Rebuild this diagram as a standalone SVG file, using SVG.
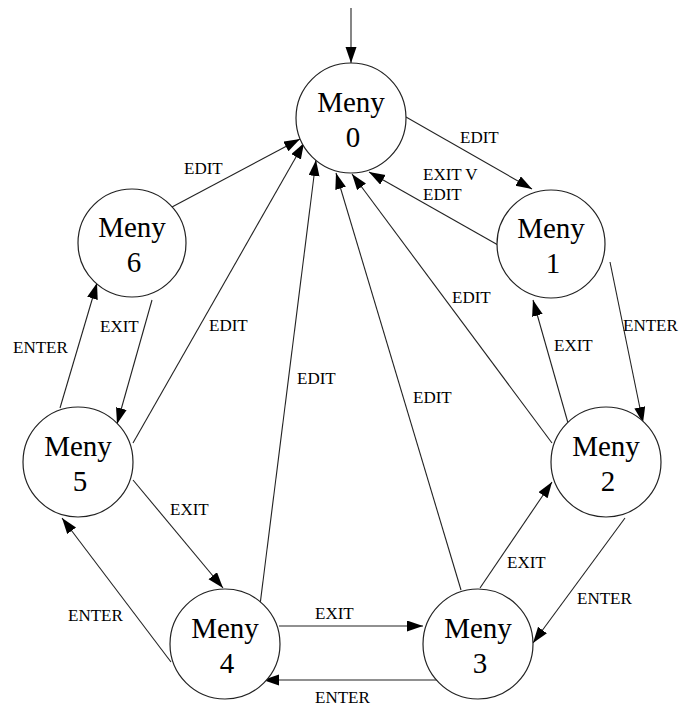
<svg xmlns="http://www.w3.org/2000/svg" width="681" height="706" viewBox="0 0 681 706">
<style>
.node circle{fill:#fff;stroke:#222;stroke-width:1.2}
.node text{font-family:'Liberation Serif','DejaVu Serif',serif;font-size:29px;fill:#000;text-anchor:middle}
.lbl text{font-family:'Liberation Serif','DejaVu Serif',serif;font-size:17px;fill:#000}
#edges line{stroke:#222;stroke-width:1.1;marker-end:url(#arr)}
</style>
<defs>
<marker id="arr" markerUnits="userSpaceOnUse" markerWidth="16" markerHeight="12" refX="16" refY="5.5" orient="auto">
<path d="M0,0 L16,5.5 L0,11 z" fill="#000"/>
</marker>
</defs>
<g id="edges">
<line x1="351" y1="8" x2="351" y2="63"/>
<line x1="406" y1="117" x2="532" y2="189"/>
<line x1="498" y1="245" x2="369" y2="172"/>
<line x1="552" y1="443" x2="352" y2="174"/>
<line x1="461" y1="590" x2="336" y2="173"/>
<line x1="260" y1="605" x2="316" y2="160"/>
<line x1="133" y1="443" x2="304" y2="143"/>
<line x1="172" y1="207" x2="300" y2="139"/>
<line x1="610" y1="262" x2="643" y2="423"/>
<line x1="568" y1="423" x2="533" y2="300"/>
<line x1="480" y1="588" x2="552" y2="482"/>
<line x1="625" y1="518" x2="533" y2="643"/>
<line x1="279" y1="626" x2="423" y2="626"/>
<line x1="443" y1="680" x2="263" y2="680"/>
<line x1="133" y1="480" x2="223" y2="588"/>
<line x1="171" y1="662" x2="62" y2="518"/>
<line x1="60" y1="408" x2="97" y2="283"/>
<line x1="152" y1="300" x2="117" y2="424"/>
</g>
<g id="labels" class="lbl">
<text x="460" y="143">EDIT</text>
<text x="423" y="180">EXIT V</text>
<text x="423" y="200">EDIT</text>
<text x="452" y="303">EDIT</text>
<text x="184" y="174">EDIT</text>
<text x="13" y="353">ENTER</text>
<text x="100" y="332">EXIT</text>
<text x="209" y="331">EDIT</text>
<text x="170" y="515">EXIT</text>
<text x="297" y="384">EDIT</text>
<text x="413" y="403">EDIT</text>
<text x="554" y="351">EXIT</text>
<text x="623" y="331">ENTER</text>
<text x="68" y="621">ENTER</text>
<text x="315" y="619">EXIT</text>
<text x="315" y="703">ENTER</text>
<text x="507" y="568">EXIT</text>
<text x="577" y="604">ENTER</text>
</g>
<g id="n0" class="node"><circle cx="351" cy="118" r="55"/><text x="351" y="112">Meny</text><text x="353" y="147">0</text></g>
<g id="n1" class="node"><circle cx="551" cy="244" r="54"/><text x="551" y="238">Meny</text><text x="553" y="273">1</text></g>
<g id="n6" class="node"><circle cx="132" cy="243" r="54"/><text x="132" y="237">Meny</text><text x="134" y="272">6</text></g>
<g id="n5" class="node"><circle cx="78" cy="462" r="55"/><text x="78" y="456">Meny</text><text x="80" y="491">5</text></g>
<g id="n2" class="node"><circle cx="606" cy="462" r="55"/><text x="606" y="456">Meny</text><text x="608" y="491">2</text></g>
<g id="n4" class="node"><circle cx="225" cy="644" r="55"/><text x="225" y="638">Meny</text><text x="227" y="673">4</text></g>
<g id="n3" class="node"><circle cx="478" cy="644" r="55"/><text x="478" y="638">Meny</text><text x="480" y="673">3</text></g>
</svg>
